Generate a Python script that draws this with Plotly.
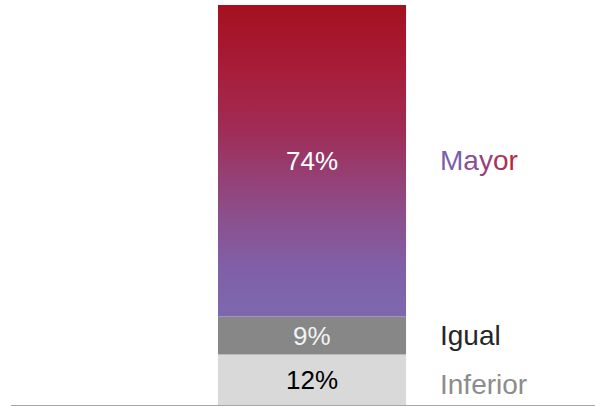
import plotly.graph_objects as go
import numpy as np

categories = ["Inferior", "Igual", "Mayor"]
values = [12, 9, 74]
pct_labels = ["12%", "9%", "74%"]
seg_colors = ["#D9D9D9", "#878787", None]
pct_text_colors = ["#000000", "#F2F2F2", "#FFFFFF"]
label_colors = ["#8C8C8C", "#262626", None]
mayor_letter_colors = ["#7A5FAA", "#8C4E95", "#9A3F78", "#A8335A", "#B7283C"]
mayor_gradient = [[0, "#7C68AE"], [0.15, "#8060A8"], [0.35, "#8E4C88"],
                  [0.6, "#A02C56"], [0.8, "#A81C38"], [1, "#A4101F"]]

bases = np.concatenate([[0], np.cumsum(values)[:-1]])
tops = bases + np.array(values)
bar_w = 1.0

fig = go.Figure()
for i, cat in enumerate(categories):
    if seg_colors[i] is not None:
        fig.add_trace(go.Bar(x=[0], y=[values[i]], base=[bases[i]], width=bar_w,
                             marker=dict(color=seg_colors[i], line=dict(width=0)),
                             hoverinfo="skip", showlegend=False))
    else:
        b, t = bases[i], tops[i]
        fig.add_trace(go.Scatter(
            x=[-bar_w / 2, bar_w / 2, bar_w / 2, -bar_w / 2, -bar_w / 2],
            y=[b, b, t, t, b], mode="lines", fill="toself",
            line=dict(width=0, color="rgba(0,0,0,0)"),
            fillgradient=dict(type="vertical", colorscale=mayor_gradient),
            hoverinfo="skip", showlegend=False))

annotations = []
for i, cat in enumerate(categories):
    mid = bases[i] + values[i] / 2
    annotations.append(dict(x=0, y=mid, text=pct_labels[i], showarrow=False,
                            xanchor="center", yanchor="middle",
                            font=dict(size=26, color=pct_text_colors[i],
                                      family="Liberation Sans, Arial")))
    if label_colors[i] is None:
        txt = "".join(f'<span style="color:{c}">{ch}</span>'
                      for ch, c in zip(cat, mayor_letter_colors))
        col = "#8C4E95"
    else:
        txt = cat
        col = label_colors[i]
    annotations.append(dict(x=0.67, y=mid, text=txt, showarrow=False,
                            xanchor="left", yanchor="middle",
                            yshift=-5 if i == 0 else 0,
                            font=dict(size=28, color=col,
                                      family="Liberation Sans, Arial")))

fig.update_layout(
    width=595, height=406,
    margin=dict(l=11, r=0, t=5, b=1),
    plot_bgcolor="white", paper_bgcolor="white",
    barmode="overlay",
    showlegend=False,
    annotations=annotations,
    xaxis=dict(range=[-1.601, 1.505], showgrid=False, zeroline=False,
               showticklabels=False, showline=True, linecolor="#A6A6A6",
               linewidth=1.5, fixedrange=True),
    yaxis=dict(range=[0, 95], showgrid=False, zeroline=False,
               showticklabels=False, showline=False, fixedrange=True),
)

fig.write_html("out.html", config={"displayModeBar": False},
               post_script="document.body.style.margin='0';")
